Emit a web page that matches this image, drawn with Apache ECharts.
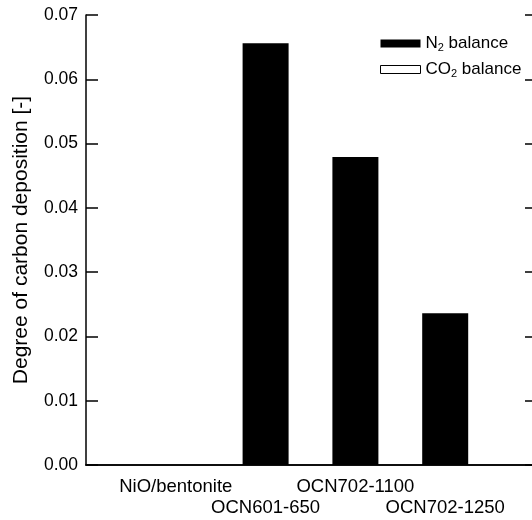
<!DOCTYPE html>
<html>
<head>
<meta charset="utf-8">
<script src="https://cdn.jsdelivr.net/npm/echarts@6/dist/echarts.min.js"></script>
<style>
  html, body { margin: 0; padding: 0; overflow: hidden; background: #fff; }
  #chart { width: 540px; height: 520px; }
</style>
</head>
<body>
<div id="chart"></div>
<script>
// 样品名称
var samples = ['NiO/bentonite', 'OCN601-650', 'OCN702-1100', 'OCN702-1250'];
// N2 balance 积碳程度
var n2Balance = [0, 0.0656, 0.0479, 0.0236];
// CO2 balance 积碳程度（图中看不到柱子）
var co2Balance = [0, 0, 0, 0];
// y轴刻度
var yTicks = [0, 0.01, 0.02, 0.03, 0.04, 0.05, 0.06, 0.07];

// 两端各补一个空位置，让柱子落在 1..4 的位置上
var cats = [''].concat(samples, ['']);
var n2Data = [null].concat(n2Balance, [null]);
var co2Data = [null].concat(co2Balance, [null]);

var font = 'Liberation Sans, Arial, sans-serif';
var chart = echarts.init(document.getElementById('chart'));

var option = {
  animation: false,
  textStyle: { fontFamily: font },
  grid: { left: 86, right: 5, top: 15, bottom: 55 },
  legend: {
    orient: 'vertical',
    left: 375,
    top: 30,
    icon: 'rect',
    itemWidth: 40,
    itemHeight: 8,
    itemGap: 8,
    data: [
      { name: 'N2 balance', itemStyle: { color: '#000' } },
      { name: 'CO2 balance', itemStyle: { color: '#fff', borderColor: '#000', borderWidth: 1 } }
    ],
    formatter: function (name) {
      if (name === 'N2 balance') return '{a|N}{s|2}{a| balance}';
      return '{a|CO}{s|2}{a| balance}';
    },
    textStyle: {
      rich: {
        a: { fontSize: 17, color: '#000', fontFamily: font },
        s: { fontSize: 11, color: '#000', fontFamily: font, verticalAlign: 'bottom', padding: [8, 0, 0, 0] }
      }
    }
  },
  xAxis: [{
    type: 'category',
    data: cats,
    boundaryGap: false,
    axisLine: { lineStyle: { color: '#000', width: 1.5 } },
    axisTick: { show: false },
    axisLabel: {
      color: '#000',
      fontSize: 18.5,
      fontFamily: font,
      margin: 11,
      lineHeight: 21,
      interval: 0,
      formatter: function (v, i) {
        return i % 2 === 0 ? '\n' + v : v;
      }
    }
  }, {
    type: 'category',
    data: cats,
    position: 'top',
    boundaryGap: false,
    axisLine: { lineStyle: { color: '#000', width: 1.5 } },
    axisTick: { show: false },
    axisLabel: { show: false }
  }],
  yAxis: [{
    type: 'value',
    min: yTicks[0],
    max: yTicks[yTicks.length - 1],
    interval: 0.01,
    name: 'Degree of carbon deposition [-]',
    nameLocation: 'middle',
    nameGap: 54,
    nameTextStyle: { color: '#000', fontSize: 21, fontFamily: font },
    axisLine: { show: true, lineStyle: { color: '#000', width: 1.5 } },
    axisTick: { show: true, inside: true, length: 12, lineStyle: { color: '#000', width: 1.5 } },
    axisLabel: {
      color: '#000',
      fontSize: 17.5,
      fontFamily: font,
      margin: 8,
      formatter: function (v) { return v.toFixed(2); }
    },
    splitLine: { show: false }
  }, {
    type: 'value',
    position: 'right',
    min: yTicks[0],
    max: yTicks[yTicks.length - 1],
    interval: 0.01,
    axisLine: { show: true, lineStyle: { color: '#000', width: 1.5 } },
    axisTick: { show: true, inside: true, length: 10, lineStyle: { color: '#000', width: 1.5 } },
    axisLabel: { show: false },
    splitLine: { show: false }
  }],
  series: [{
    name: 'N2 balance',
    type: 'bar',
    data: n2Data,
    barWidth: 46,
    barGap: '-100%',
    itemStyle: { color: '#000' }
  }, {
    name: 'CO2 balance',
    type: 'bar',
    data: co2Data,
    barWidth: 46,
    itemStyle: { color: '#fff' }
  }]
};

chart.setOption(option);
</script>
</body>
</html>
